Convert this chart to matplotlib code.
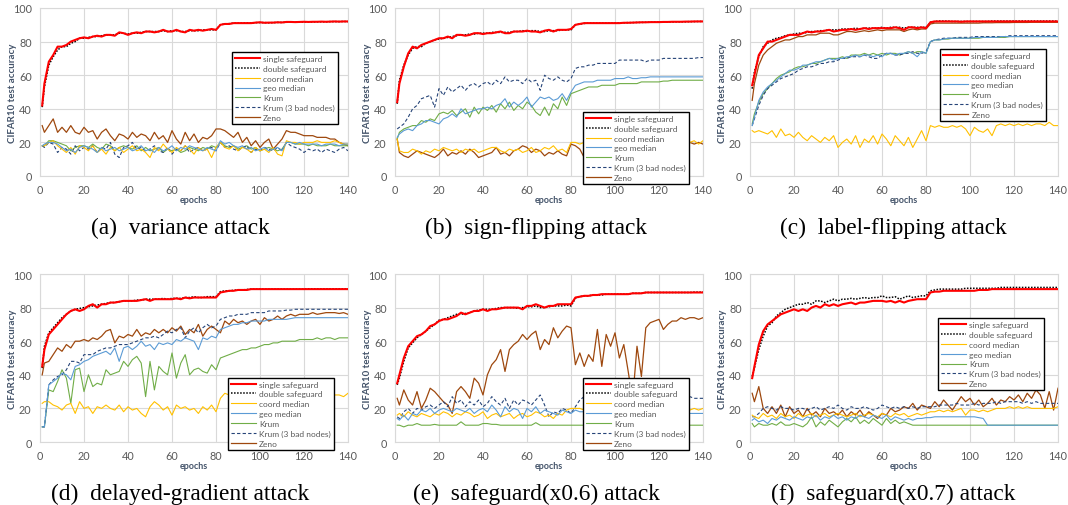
import numpy as np
import matplotlib
matplotlib.use("Agg")
import matplotlib.pyplot as plt

# epochs: 1, 2, 4, ..., 140
epochs = np.r_[1, np.arange(2, 141, 2)]

labels = ['single safeguard', 'double safeguard', 'coord median', 'geo median',
          'Krum', 'Krum (3 bad nodes)', 'Zeno']
captions = ['(a)  variance attack', '(b)  sign-flipping attack', '(c)  label-flipping attack',
            '(d)  delayed-gradient attack', '(e)  safeguard(x0.6) attack', '(f)  safeguard(x0.7) attack']

# ---------------- (a) variance attack ----------------
a_single = [42,
    55, 68, 72, 77, 77, 78, 80, 81, 82, 82.5,
    82, 83, 83.5, 83, 84, 84, 83.5, 85.5, 85, 84,
    85, 85.5, 85, 86, 86, 85.5, 86, 87, 86, 86,
    87, 86, 85.5, 87, 86.5, 87, 86.5, 87, 87.5, 87,
    90, 90.5, 90.5, 91, 91, 91, 91, 91, 91.3, 91.5,
    91.2, 91.3, 91.3, 91.5, 91.4, 91.7, 91.7, 91.6, 91.7, 91.8,
    91.7, 91.8, 91.8, 91.9, 91.8, 91.9, 92, 91.9, 92, 92]
a_double = [41,
    53, 66, 71, 75, 77, 77, 79, 80, 82, 82,
    82.5, 83, 83, 83.5, 84, 84, 84, 85, 85, 84.5,
    85, 85, 85.5, 86, 86, 86, 86, 86.5, 86, 86.5,
    86.5, 86, 86, 86.5, 86.5, 86.5, 87, 87, 87, 87,
    90, 90.5, 90.7, 91, 91, 91, 91.2, 91, 91.3, 91.3,
    91.3, 91.2, 91.3, 91.4, 91.4, 91.5, 91.6, 91.6, 91.6, 91.7,
    91.7, 91.7, 91.8, 91.8, 91.8, 91.9, 91.9, 91.9, 92, 91.9]
a_coord = [18,
    18, 20, 21, 18, 16, 14, 17, 13, 18, 17,
    15, 18, 14, 16, 13, 17, 15, 17, 14, 16,
    18, 15, 16, 14, 11, 17, 15, 19, 16, 14,
    17, 15, 18, 16, 13, 17, 15, 16, 11, 17,
    20, 17, 16, 18, 15, 17, 16, 14, 17, 15,
    16, 14, 17, 13, 12, 21, 20, 20, 19, 20,
    20, 20, 21, 20, 20, 20, 21, 20, 19, 19]
a_geo = [18,
    19, 20, 20, 19, 17, 15, 16, 14, 17, 18,
    17, 16, 14, 17, 15, 16, 17, 15, 16, 17,
    15, 16, 18, 15, 16, 14, 17, 15, 16, 18,
    15, 17, 16, 18, 17, 16, 15, 17, 16, 15,
    21, 19, 20, 18, 17, 18, 16, 17, 15, 16,
    17, 15, 16, 17, 15, 20, 20, 19, 20, 19,
    19, 19, 19, 18, 19, 19, 19, 18, 19, 19]
a_krum = [18,
    18, 21, 21, 20, 19, 18, 15, 17, 18, 18,
    17, 19, 17, 16, 19, 18, 15, 17, 18, 17,
    16, 18, 15, 17, 15, 16, 17, 14, 16, 15,
    16, 14, 15, 17, 16, 15, 17, 16, 18, 17,
    20, 18, 17, 18, 16, 17, 18, 16, 17, 15,
    16, 17, 16, 15, 16, 20, 20, 19, 19, 19,
    18, 19, 18, 18, 18, 19, 18, 18, 18, 18]
a_krum3 = [18,
    17, 20, 19, 14, 17, 16, 13, 18, 15, 17,
    16, 18, 14, 17, 16, 20, 13, 11, 17, 18,
    20, 16, 17, 15, 16, 18, 15, 14, 17, 13,
    16, 15, 18, 14, 16, 17, 15, 16, 17, 15,
    20, 17, 18, 16, 15, 17, 18, 14, 16, 15,
    17, 16, 15, 17, 15, 20, 18, 17, 16, 14,
    16, 15, 16, 14, 16, 15, 14, 16, 17, 15]
a_zeno = [30,
    26, 30, 34, 26, 29, 26, 30, 26, 25, 29,
    26, 27, 22, 26, 28, 24, 21, 25, 24, 22,
    26, 23, 25, 24, 21, 26, 22, 24, 20, 27,
    22, 19, 26, 21, 25, 20, 23, 22, 24, 28,
    28, 27, 25, 23, 26, 20, 23, 18, 21, 17,
    20, 22, 16, 19, 22, 27, 26, 26, 25, 24,
    24, 24, 23, 23, 23, 22, 22, 20, 19, 18]

# ---------------- (b) sign-flipping attack ----------------
b_single = [44,
    55, 65, 73, 77, 76, 78, 79, 80, 81, 82,
    82, 83, 82, 84, 84, 83.5, 84, 85, 85, 84.5,
    85, 85, 85.5, 86, 85, 85, 86, 86, 86, 86.5,
    86, 86, 85.5, 86.5, 87, 86, 87, 87, 87, 87.5,
    90, 90.5, 91, 91, 91, 91, 91, 91, 91, 91,
    91, 91.2, 91.2, 91.3, 91.4, 91.5, 91.5, 91.6, 91.6, 91.6,
    91.7, 91.7, 91.8, 91.8, 91.8, 91.9, 91.9, 92, 92, 92]
b_double = [43,
    57, 66, 72, 76, 77, 77, 79, 80, 81, 81.5,
    82, 82.5, 83, 83.5, 84, 84, 84.5, 84.5, 85, 85,
    85, 85.5, 85.5, 85.5, 85.5, 85.5, 86, 86, 86.5, 86,
    86.5, 86.5, 86, 86, 86.5, 86.5, 86.5, 87, 87, 87,
    90, 90.5, 90.8, 91, 91, 91, 91, 91, 91, 91.1,
    91.1, 91.2, 91.3, 91.3, 91.4, 91.4, 91.5, 91.5, 91.6, 91.6,
    91.7, 91.7, 91.7, 91.8, 91.8, 91.8, 91.9, 91.9, 92, 92]
b_coord = [22,
    15, 14, 14, 16, 15, 13, 15, 14, 16, 15,
    17, 16, 15, 16, 14, 16, 15, 16, 14, 15,
    16, 17, 17, 15, 14, 16, 15, 16, 14, 15,
    17, 14, 15, 17, 16, 18, 15, 16, 14, 20,
    20, 19, 20, 19, 19, 20, 19, 20, 18, 20,
    19, 20, 19, 20, 20, 19, 20, 21, 20, 19,
    20, 21, 20, 20, 19, 20, 20, 21, 19, 21]
b_geo = [23,
    25, 27, 28, 27, 30, 31, 33, 33, 32, 31,
    34, 35, 37, 35, 40, 37, 38, 39, 40, 40,
    41, 40, 42, 43, 46, 41, 44, 42, 44, 47,
    41, 44, 47, 46, 47, 45, 46, 49, 45, 50,
    54, 55, 56, 56, 56, 57, 57, 57, 57, 58,
    58, 58, 59, 58, 58, 58.5, 58.5, 59, 59, 59,
    59, 59, 59, 59, 59, 59, 59, 59, 59, 59]
b_krum = [22,
    26, 28, 29, 30, 30, 33, 32, 34, 33, 37,
    38, 37, 39, 36, 38, 40, 35, 41, 37, 41,
    39, 42, 38, 43, 40, 44, 39, 42, 40, 44,
    42, 38, 36, 41, 36, 43, 40, 47, 42, 49,
    50, 51, 52, 53, 53, 53, 54, 54, 54, 54,
    55, 55, 55, 55, 55, 56, 56, 56, 56, 56,
    56.5, 56.5, 57, 57, 57, 57, 57, 57, 57, 57]
b_krum3 = [28,
    29, 31, 35, 40, 42, 46, 47, 48, 41, 52,
    48, 53, 50, 52, 54, 51, 54, 55, 53, 55,
    56, 54, 57, 55, 59, 56, 57, 57, 55, 58,
    56, 57, 51, 60, 58, 57, 59, 57, 56, 58,
    64, 65, 65, 66, 66, 67, 67, 67, 67, 67,
    69, 69, 69, 69, 69, 69, 68, 69, 69, 69,
    70, 70, 70, 70, 70, 70, 70, 70, 70.5, 70.5]
b_zeno = [22,
    14, 12, 11, 13, 15, 14, 13, 12, 11, 13,
    16, 12, 14, 13, 15, 13, 16, 14, 11, 12,
    13, 14, 17, 13, 14, 12, 15, 16, 18, 17,
    14, 16, 15, 12, 14, 13, 15, 13, 12, 19,
    18, 16, 11, 13, 12, 14, 15, 13, 16, 14,
    15, 17, 14, 16, 15, 17, 18, 16, 18, 17,
    18, 19, 18, 19, 18, 19, 20, 19, 20, 19]

# ---------------- (c) label-flipping attack ----------------
c_single = [54,
    60, 72, 76, 80, 80, 81, 82, 83, 84, 84,
    84, 85, 86, 85.5, 86, 86, 86.5, 87, 86, 86.5,
    87, 87, 87.5, 87, 87.5, 88, 87.5, 88, 88, 88,
    88, 88, 88.5, 88, 87, 88.5, 88.5, 88, 88.5, 88,
    91.5, 92, 92, 92, 92, 92, 92, 91.8, 92, 92,
    92, 92, 92, 92, 92, 92, 92, 92, 92, 92,
    92, 92, 92, 92, 92, 92, 92, 92, 92, 92]
c_double = [52,
    62, 71, 77, 79, 81, 82, 82.5, 83.5, 84, 84.5,
    85, 85, 85.5, 86, 86, 86.5, 86.5, 87, 87, 87,
    87.5, 87.5, 87.5, 88, 87.5, 88, 88, 88, 88, 88.5,
    88, 88.5, 88.5, 88.5, 88, 88.5, 88.5, 88.5, 88.5, 88.5,
    91.5, 92, 92.2, 92.2, 92.2, 92, 92, 92, 92, 92,
    92, 92, 92, 92, 92.2, 92.2, 92.2, 92.2, 92.2, 92.2,
    92.2, 92.2, 92.2, 92.2, 92.2, 92.2, 92.2, 92.2, 92.2, 92.2]
c_coord = [27,
    26, 27, 26, 25, 27, 23, 28, 24, 25, 23,
    26, 23, 21, 24, 22, 20, 23, 21, 24, 17,
    20, 22, 19, 24, 17, 22, 20, 24, 19, 25,
    22, 18, 24, 21, 18, 23, 17, 22, 27, 21,
    30, 29, 30, 29, 29, 30, 29, 30, 28, 24,
    29, 27, 26, 28, 24, 30, 31, 30, 31, 30,
    31, 30, 31, 30, 31, 31, 30, 32, 30, 30]
c_geo = [30,
    35, 45, 50, 53, 55, 57, 59, 61, 63, 63,
    64, 66, 66, 67, 68, 68, 69, 70, 69, 70,
    70, 71, 71, 72, 71, 72, 72, 71, 72, 71,
    73, 73, 72, 73, 73, 74, 73, 71, 74, 73,
    80, 81, 81, 81.5, 82, 82, 82, 82, 82, 82,
    82.5, 82.5, 82.5, 82.5, 82.5, 82.5, 83, 83, 83, 83,
    83, 83, 83, 83, 83, 83, 83, 83, 83, 83]
c_krum = [31,
    37, 44, 49, 52, 55, 58, 60, 61, 62, 64,
    65, 65, 66, 67, 67, 68, 69, 70, 70, 70,
    71, 70, 72, 72, 72, 73, 72, 73, 72, 73,
    72, 73, 73, 72, 73, 74, 73, 74, 74, 73,
    80, 81, 81, 81.5, 81.5, 82, 82, 82, 82, 82,
    82, 82, 82.5, 82.5, 82.5, 82.5, 82.5, 82.5, 83, 83,
    83, 83, 83, 83, 83, 83, 83, 83, 83, 83]
c_krum3 = [30,
    34, 42, 48, 52, 54, 56, 58, 59, 60, 61,
    63, 64, 65, 65, 66, 67, 67, 68, 68, 69,
    70, 70, 71, 71, 71, 72, 71, 70, 70, 72,
    73, 73, 72, 72, 73, 73, 74, 73, 73, 74,
    80, 81, 81.5, 82, 82, 82, 82.5, 82.5, 82.5, 82.5,
    83, 83, 83, 83, 83, 83, 83, 83, 83.5, 83.5,
    83.5, 83.5, 83.5, 83.5, 83.5, 83.5, 83.5, 83.5, 83.5, 83.5]
c_zeno = [45,
    55, 66, 72, 75, 77, 79, 80, 81, 81, 82,
    83, 83, 84, 84, 84, 85, 85, 85, 84, 84,
    85, 86, 86, 85.5, 86, 86.5, 86, 86.5, 87, 86.5,
    87, 87, 87, 87, 86, 87, 87.5, 87, 87.5, 87.5,
    90.5, 91, 91, 91, 91, 91, 91, 91, 91, 91,
    91, 91, 91.2, 91.2, 91.2, 91.3, 91.3, 91.3, 91.3, 91.4,
    91.4, 91.4, 91.4, 91.5, 91.5, 91.5, 91.5, 91.5, 91.5, 91.5]

# ---------------- (d) delayed-gradient attack ----------------
d_single = [45,
    55, 64, 67, 70, 73, 76, 78, 79, 78, 79,
    81, 82, 80, 82, 82, 83, 83, 83.5, 84, 84,
    84, 84, 84.5, 85, 84, 85, 85, 85, 85, 85,
    85.5, 85, 86, 85.5, 86, 86, 86, 86, 86, 86,
    89, 89.5, 90, 90, 90.5, 90.5, 90.5, 91, 91, 91,
    91, 91, 91, 91, 91, 91, 91, 91, 91, 91,
    91, 91, 91, 91, 91, 91, 91, 91, 91, 91]
d_double = [44,
    57, 65, 68, 71, 74, 76, 78, 79, 79.5, 80,
    80.5, 81, 81.5, 82, 82.5, 83, 83, 83.5, 84, 84,
    84, 84.5, 84.5, 85, 85, 85, 85, 85.5, 85, 85.5,
    85.5, 85.5, 86, 86, 86.5, 86, 86, 86.5, 86.5, 86.5,
    89.5, 90, 90, 90.3, 90.5, 90.5, 90.8, 91, 91, 91,
    91, 91, 91, 91, 91, 91, 91, 91, 91, 91,
    91.2, 91.2, 91.2, 91.2, 91.2, 91.2, 91.2, 91.2, 91.2, 91.2]
d_coord = [23,
    24, 24, 22, 21, 19, 22, 23, 17, 24, 20,
    21, 17, 21, 20, 22, 20, 19, 22, 18, 21,
    19, 20, 17, 15, 21, 24, 22, 19, 21, 16,
    22, 20, 21, 19, 20, 17, 21, 19, 22, 18,
    26, 29, 28, 27, 28, 29, 28, 27, 28, 29,
    27, 28, 29, 28, 27, 28, 29, 28, 27, 28,
    29, 28, 28, 27, 28, 29, 28, 28, 27, 29]
d_geo = [9,
    9, 34, 36, 38, 41, 40, 37, 45, 46, 48,
    49, 51, 52, 53, 54, 52, 56, 48, 56, 57,
    55, 57, 60, 57, 58, 55, 59, 58, 59, 58,
    61, 60, 62, 61, 60, 55, 62, 61, 63, 62,
    67, 68, 69, 70, 70, 71, 71, 72, 72, 72,
    72, 73, 73, 73, 73, 73, 73.5, 74, 74, 74,
    74, 74, 74, 74, 74, 74, 74, 74, 74, 74]
d_krum = [9,
    9, 31, 30, 36, 43, 38, 23, 43, 44, 30,
    40, 33, 35, 34, 43, 40, 41, 42, 48, 45,
    49, 51, 47, 27, 48, 31, 45, 42, 40, 53,
    38, 47, 52, 40, 43, 44, 42, 41, 46, 43,
    50, 51, 52, 53, 54, 55, 55, 56, 56, 57,
    58, 58, 59, 59, 60, 60, 60, 60, 61, 61,
    61, 61, 62, 61, 62, 62, 61, 62, 62, 62]
d_krum3 = [9,
    9, 34, 37, 39, 40, 43, 48, 48, 47, 52,
    52, 52, 54, 55, 56, 56, 57, 58, 58, 58,
    59, 60, 61, 62, 62, 63, 62, 64, 66, 65,
    67, 68, 62, 66, 68, 65, 68, 70, 68, 69,
    73, 74, 75, 75, 76, 76, 76, 77, 77, 77,
    77, 78, 78, 78, 78, 78.5, 78.5, 79, 79, 79,
    79, 79, 79, 79, 79, 79, 79, 79, 79, 79]
d_zeno = [40,
    47, 48, 52, 56, 54, 58, 56, 60, 60, 61,
    60, 62, 61, 63, 66, 67, 59, 63, 62, 64,
    63, 67, 63, 65, 64, 67, 65, 67, 65, 68,
    66, 69, 64, 67, 65, 70, 63, 67, 69, 67,
    65, 72, 70, 73, 71, 72, 70, 72, 73, 70,
    74, 72, 73, 75, 73, 75, 76, 75, 76, 76,
    76, 77, 76, 76.5, 77, 77, 77, 76.5, 77, 76]

# ---------------- (e) safeguard(x0.6) attack ----------------
e_single = [35,
    40, 50, 57, 60, 63, 64, 66, 69, 70, 72,
    73, 73, 74, 75, 77, 76, 77, 78, 78, 79,
    78, 79, 79, 79.5, 80, 80, 80, 80, 79, 81,
    81, 82, 81, 80, 81, 81, 82, 82, 82, 82,
    86, 86.5, 87, 87, 87.5, 87.5, 88, 88, 88, 88,
    88, 88, 88, 88.5, 88.5, 88.5, 89, 89, 89, 89,
    89, 89, 89, 89, 89, 89, 89, 89, 89, 89]
e_double = [34,
    38, 48, 56, 59, 62, 64, 66, 68, 70, 72.5,
    73, 74, 75, 76, 76, 76.5, 77, 78, 78.5, 79,
    79, 79, 79.5, 80, 80, 80, 80, 79.5, 80, 80.5,
    80.5, 81, 80, 80, 80.5, 81, 81, 81, 81.5, 81,
    85.5, 86.5, 87, 87, 87.5, 87.5, 87.5, 88, 88, 88,
    88, 88, 88, 88.5, 88.5, 88.5, 89, 89, 89, 89,
    89, 89, 89, 89, 89, 89, 89, 89.2, 89.2, 89.2]
e_coord = [16,
    17, 15, 18, 16, 15, 17, 16, 15, 17, 16,
    18, 17, 15, 17, 16, 18, 17, 15, 16, 18,
    14, 16, 17, 15, 16, 17, 14, 16, 17, 15,
    16, 18, 17, 15, 16, 14, 17, 16, 19, 20,
    20, 20, 19, 20, 20, 19, 20, 20, 19, 20,
    20, 19, 20, 20, 19, 20, 20, 19, 20, 20,
    19, 20, 20, 19, 20, 20, 19, 20, 19, 20]
e_geo = [14,
    13, 16, 13, 17, 16, 19, 18, 20, 17, 19,
    20, 19, 18, 20, 19, 18, 20, 17, 19, 20,
    18, 22, 19, 15, 21, 18, 20, 19, 14, 20,
    18, 21, 17, 19, 18, 17, 16, 19, 18, 17,
    19, 18, 18, 18, 17, 18, 17, 18, 17, 17,
    18, 17, 17, 18, 17, 17, 17, 18, 17, 17,
    17, 17, 18, 17, 17, 17, 17, 17, 17, 17]
e_krum = [10,
    10, 9, 10, 10, 11, 10, 10, 10, 10.5, 10,
    10, 10, 10, 10, 12, 10, 10, 10, 10, 11,
    11, 10.5, 10.5, 10, 10, 10, 10, 10, 10, 10,
    10, 11.5, 10, 10, 10, 10, 10, 10, 10, 10,
    10, 10, 10, 10, 10, 10, 10, 10, 10, 10,
    10, 10, 10, 10, 10, 10, 10, 10, 10, 10,
    10, 10, 10, 10, 10, 10, 10, 10, 10, 10]
e_krum3 = [15,
    14, 18, 20, 17, 20, 19, 21, 22, 20, 22,
    24, 21, 27, 23, 25, 21, 24, 22, 25, 21,
    23, 27, 24, 22, 26, 20, 25, 22, 25, 24,
    22, 25, 28, 22, 15, 18, 17, 20, 19, 17,
    21, 25, 27, 26, 25, 27, 26, 25, 27, 26,
    26, 25, 26, 27, 26, 25, 26, 27, 26, 25,
    26, 27, 26, 26, 25, 26, 27, 26, 26, 26]
e_zeno = [26,
    22, 31, 25, 22, 30, 20, 25, 32, 30, 27,
    24, 22, 17, 30, 33, 30, 26, 38, 35, 28,
    40, 46, 49, 55, 42, 55, 58, 60, 64, 61,
    64, 66, 55, 61, 58, 68, 62, 66, 69, 68,
    46, 53, 45, 52, 48, 67, 45, 64, 57, 65,
    50, 58, 42, 25, 57, 39, 68, 71, 72, 73,
    67, 70, 72, 72, 74, 73, 74, 74, 73, 74]

# ---------------- (f) safeguard(x0.7) attack ----------------
f_single = [38,
    45, 58, 66, 70, 72, 74, 76, 77, 78, 79,
    78, 79, 78, 80, 81, 80, 82, 81, 82, 81,
    82, 82.5, 83, 82, 83, 83, 83.5, 84, 84, 84,
    83.5, 84, 83, 84, 83, 84, 84.5, 85, 85, 85,
    89, 89.5, 89.5, 90, 90, 90, 90, 90, 90, 90,
    90, 90.5, 90.5, 90.5, 91, 91, 91, 91, 91, 91,
    91, 91, 91, 91, 91, 91, 91, 91, 91, 91]
f_double = [39,
    44, 55, 63, 69, 71, 75, 77, 79, 80, 81,
    82, 82, 83, 82, 84, 84, 83, 84, 85, 84,
    85, 85, 85.5, 85, 85.5, 86, 85.5, 86, 86, 87,
    86, 86, 86.5, 85, 86, 87, 86, 86.5, 87, 87,
    90, 90.5, 91, 91, 91, 91, 91, 91, 91.5, 91.5,
    91.5, 91.5, 91.5, 91.5, 91.5, 91.5, 92, 92, 92, 92,
    92, 92, 92, 92, 92, 92, 92, 92, 92, 92]
f_coord = [16,
    15, 14, 17, 15, 16, 14, 17, 15, 16, 14,
    17, 15, 16, 17, 15, 16, 17, 15, 16, 17,
    16, 15, 16, 17, 15, 16, 17, 16, 15, 17,
    16, 15, 17, 16, 17, 15, 16, 17, 16, 17,
    18, 18, 19, 18, 19, 18, 19, 20, 16, 19,
    19, 18, 19, 18, 19, 20, 20, 20, 21, 20,
    21, 20, 21, 20, 20, 20, 20, 20, 20, 21]
f_geo = [13,
    14, 12, 13, 11, 14, 13, 15, 14, 13, 15,
    14, 13, 15, 14, 16, 13, 15, 14, 16, 14,
    15, 13, 15, 14, 16, 15, 14, 16, 15, 14,
    16, 13, 15, 14, 13, 14, 13, 14, 14, 14.5,
    14.5, 15, 15, 15, 15, 15, 15, 15, 15, 15,
    15, 14.5, 14, 10, 10, 10, 10, 10, 10, 10,
    10, 10, 10, 10, 10, 10, 10, 10, 10, 10]
f_krum = [11,
    9, 11, 10, 10, 11, 10, 12, 10, 10, 11,
    10, 9, 11, 15, 9, 12, 10, 13, 11, 9,
    12, 14, 12, 15, 11, 13, 11, 14, 12, 10,
    14, 11, 13, 11, 12, 11, 10, 10, 10, 10,
    10, 10, 10, 10, 10, 10, 10, 10, 10, 10,
    10, 10, 10, 10, 10, 10, 10, 10, 10, 10,
    10, 10, 10, 10, 10, 10, 10, 10, 10, 10]
f_krum3 = [15,
    15, 17, 20, 21, 20, 19, 21, 20, 20, 19,
    20, 20, 19, 20, 21, 19, 20, 21, 20, 22,
    20, 19, 21, 20, 20, 21, 20, 19, 20, 22,
    21, 20, 21, 20, 21, 20, 21, 20, 21, 21,
    21, 21, 22, 22, 22, 22, 23, 22, 22, 22,
    23, 22, 23, 23, 23, 24, 23, 24, 24, 24,
    24, 23, 24, 23, 24, 23, 23, 23, 23, 23]
f_zeno = [29,
    24, 33, 20, 17, 21, 17, 22, 15, 21, 17,
    19, 15, 20, 16, 18, 15, 20, 17, 18, 16,
    19, 15, 18, 16, 19, 15, 18, 16, 14, 17,
    16, 20, 18, 19, 21, 20, 23, 19, 22, 21,
    20, 24, 21, 25, 22, 19, 23, 27, 24, 26,
    22, 25, 21, 23, 26, 22, 25, 24, 27, 25,
    28, 24, 29, 26, 31, 28, 20, 30, 19, 32]

panels = [
    (a_single, a_double, a_coord, a_geo, a_krum, a_krum3, a_zeno),
    (b_single, b_double, b_coord, b_geo, b_krum, b_krum3, b_zeno),
    (c_single, c_double, c_coord, c_geo, c_krum, c_krum3, c_zeno),
    (d_single, d_double, d_coord, d_geo, d_krum, d_krum3, d_zeno),
    (e_single, e_double, e_coord, e_geo, e_krum, e_krum3, e_zeno),
    (f_single, f_double, f_coord, f_geo, f_krum, f_krum3, f_zeno),
]

# style of each series, same order as labels
styles = [
    dict(color='#FF0000', lw=1.5, ls='-', zorder=9),
    dict(color='#000000', lw=1.1, ls=(0, (1, 1)), zorder=8),
    dict(color='#FFC000', lw=0.8, ls='-', zorder=5),
    dict(color='#5B9BD5', lw=0.8, ls='-', zorder=5),
    dict(color='#70AD47', lw=0.8, ls='-', zorder=4),
    dict(color='#264478', lw=0.8, ls=(0, (3, 2)), zorder=4),
    dict(color='#9E480E', lw=0.9, ls='-', zorder=3),
]

# legend upper-left corner in axes fraction
legend_at = [(0.623, 0.738), (0.610, 0.381), (0.617, 0.756),
             (0.610, 0.383), (0.610, 0.383), (0.610, 0.737)]

W, H = 1068, 506
fig = plt.figure(figsize=(W / 100, H / 100), dpi=100)

ax_left = [40, 395, 750]
ax_top = [9, 275]
ax_w, ax_h = 308, 168
cap_x = [180, 536, 893]
cap_y = [228, 494]

tick_font = 'Lato'
grey = '#595959'

for k, series in enumerate(panels):
    r, c = divmod(k, 3)
    x0 = ax_left[c]
    y0 = ax_top[r]
    ax = fig.add_axes([x0 / W, 1 - (y0 + ax_h) / H, ax_w / W, ax_h / H])

    for vals, lab, st in zip(series, labels, styles):
        ax.plot(epochs, vals, label=lab, color=st['color'], lw=st['lw'],
                ls=st['ls'], zorder=st['zorder'])

    ax.set_xlim(0, 140)
    ax.set_ylim(0, 100)
    ax.set_xticks(range(0, 141, 20))
    ax.set_yticks(range(0, 101, 20))
    ax.grid(True, color='#D9D9D9', lw=0.8)
    ax.set_axisbelow(True)
    for s in ax.spines.values():
        s.set_color('#D9D9D9')
        s.set_linewidth(0.8)
    ax.tick_params(length=0, labelsize=7.8, labelcolor=grey, pad=6)
    for t in ax.get_xticklabels() + ax.get_yticklabels():
        t.set_family(tick_font)

    ax.set_xlabel('epochs', fontsize=6.5, fontweight='bold', color='#44546A',
                  family=tick_font)
    ax.xaxis.set_label_coords(0.5, -0.115)
    ax.set_ylabel('CIFAR10 test accuracy', fontsize=7, fontweight='bold',
                  color='#44546A', family=tick_font)
    ax.yaxis.set_label_coords(-0.075, 0.5)

    leg = ax.legend(loc='upper left', bbox_to_anchor=legend_at[k], borderaxespad=0,
                    frameon=True, fancybox=False, framealpha=1,
                    edgecolor='black', handlelength=3.0, handletextpad=0.4,
                    labelspacing=0.34, borderpad=0.35,
                    prop={'family': tick_font, 'size': 6})
    leg.get_frame().set_linewidth(1.0)
    for t in leg.get_texts():
        t.set_color(grey)
    leg.set_zorder(20)

    fig.text(cap_x[c] / W, 1 - cap_y[r] / H, captions[k], ha='center', va='center',
             fontsize=16.8, family='Liberation Serif')

fig.savefig('out.png', dpi=100)
